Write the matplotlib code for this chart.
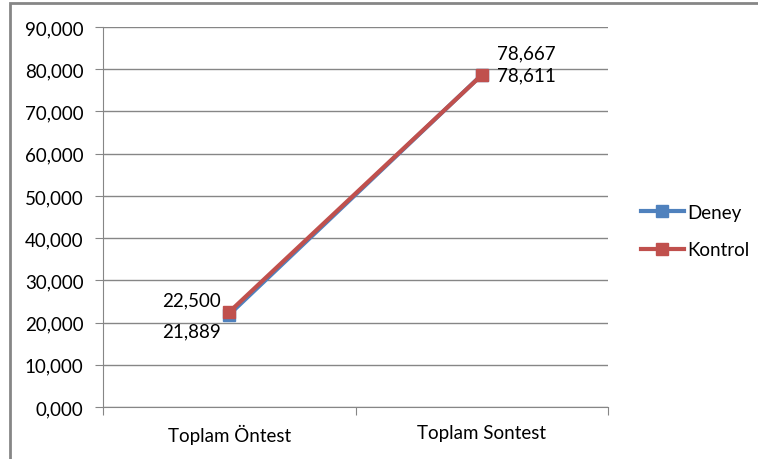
import matplotlib.pyplot as plt
from matplotlib.patches import Rectangle
from matplotlib.lines import Line2D

categories = ["Toplam Öntest", "Toplam Sontest"]
deney = [21.889, 78.667]
kontrol = [22.500, 78.611]
yticks = [0, 10, 20, 30, 40, 50, 60, 70, 80, 90]

blue = "#4F81BD"
red = "#C0504D"
fs = 13.5

plt.rcParams['font.family'] = ['Lato', 'DejaVu Sans']

fig = plt.figure(figsize=(7.58, 4.60), dpi=100)
ax = fig.add_axes([103 / 758, 1 - 408 / 460, 505 / 758, 380 / 460])

x = [0.5, 1.5]
ax.plot(x, deney, color=blue, lw=3, marker="s", ms=8, label="Deney", zorder=3)
ax.plot(x, kontrol, color=red, lw=3, marker="s", ms=8, label="Kontrol", zorder=4)

ax.set_xlim(0, 2)
ax.set_ylim(0, 90)
ax.set_yticks(yticks)
ax.set_yticklabels([("%.3f" % v).replace(".", ",") for v in yticks])
ax.yaxis.grid(True, color="#868686", lw=1)
ax.set_axisbelow(True)

ax.set_xticks([0, 1, 2])
ax.set_xticklabels([])
ax.set_xticks(x, minor=True)
ax.set_xticklabels(categories, minor=True)
ax.tick_params(axis="x", which="major", length=6, color="#868686", direction="out")
ax.tick_params(axis="x", which="minor", length=0, pad=12, labelsize=fs)
ax.tick_params(axis="y", length=6, color="#868686", pad=8, labelsize=fs)

for s in ["top", "right"]:
    ax.spines[s].set_visible(False)
for s in ["left", "bottom"]:
    ax.spines[s].set_color("#868686")

def fmt(v):
    return ("%.3f" % v).replace(".", ",")

# data labels
ax.annotate(fmt(kontrol[0]), (x[0], kontrol[0]), xytext=(-6, 9), textcoords="offset points",
            ha="right", va="center", fontsize=fs)
ax.annotate(fmt(deney[0]), (x[0], deney[0]), xytext=(-27, -12), textcoords="offset points",
            ha="center", va="center", fontsize=fs)
ax.annotate(fmt(deney[1]), (x[1], deney[1]), xytext=(32, 16), textcoords="offset points",
            ha="center", va="center", fontsize=fs)
ax.annotate(fmt(kontrol[1]), (x[1], kontrol[1]), xytext=(32, 0), textcoords="offset points",
            ha="center", va="center", fontsize=fs)

handles = [Line2D([], [], color=blue, lw=3, marker="s", ms=8),
           Line2D([], [], color=red, lw=3, marker="s", ms=8)]
fig.legend(handles, ["Deney", "Kontrol"], loc="center left", bbox_to_anchor=(624 / 758, 1 - 232 / 460),
           frameon=False, fontsize=fs, handlelength=2.3, handletextpad=0.15, labelspacing=1.1)

# outer chart frame
fig.patches.append(Rectangle((10 / 758, -5 / 460), 760 / 758, 461 / 460, transform=fig.transFigure,
                             fill=False, edgecolor="#868686", lw=2))

fig.savefig("out.png", dpi=100)
